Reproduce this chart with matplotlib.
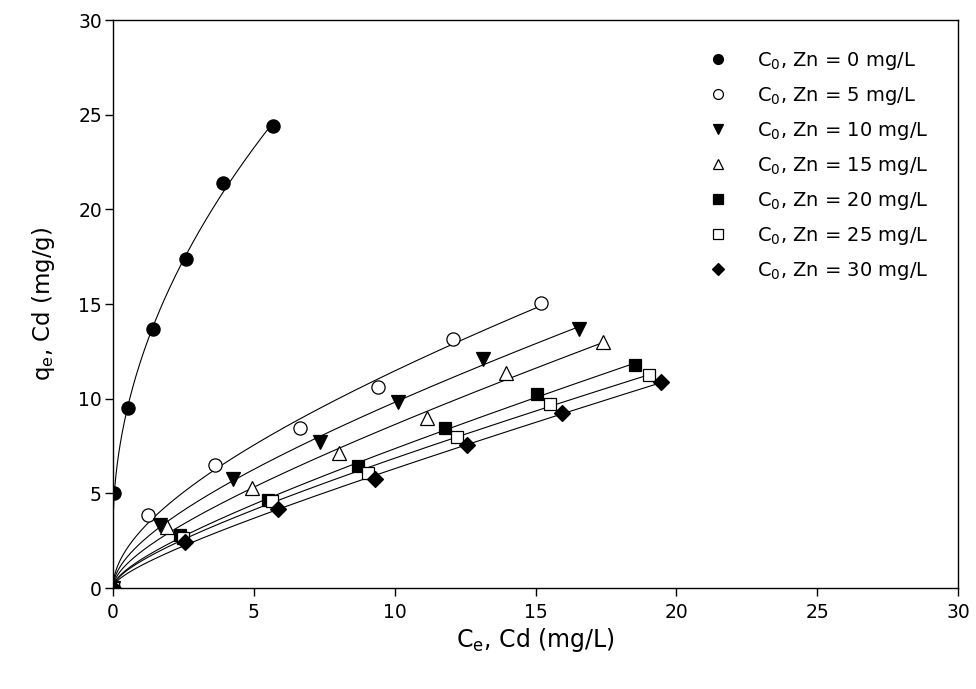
import numpy as np
import matplotlib.pyplot as plt

# Cd adsorption isotherms at different initial Zn concentrations
ce_0 = [0, 0.04, 0.54, 1.41, 2.59, 3.92, 5.67]
qe_0 = [0, 5.02, 9.49, 13.67, 17.38, 21.38, 24.41]
ce_5 = [0, 1.25, 3.62, 6.64, 9.42, 12.06, 15.21]
qe_5 = [0, 3.86, 6.50, 8.47, 10.63, 13.15, 15.07]
ce_10 = [0, 1.67, 4.26, 7.35, 10.12, 13.13, 16.54]
qe_10 = [0, 3.33, 5.76, 7.71, 9.83, 12.10, 13.68]
ce_15 = [0, 1.91, 4.92, 8.03, 11.14, 13.94, 17.41]
qe_15 = [0, 3.22, 5.27, 7.12, 8.96, 11.34, 13.01]
ce_20 = [0, 2.38, 5.51, 8.71, 11.79, 15.04, 18.53]
qe_20 = [0, 2.80, 4.65, 6.42, 8.44, 10.25, 11.78]
ce_25 = [0, 2.48, 5.63, 9.05, 12.20, 15.51, 19.04]
qe_25 = [0, 2.64, 4.61, 6.06, 7.99, 9.72, 11.25]
ce_30 = [0, 2.56, 5.87, 9.30, 12.56, 15.95, 19.44]
qe_30 = [0, 2.45, 4.16, 5.74, 7.55, 9.23, 10.90]

zn_levels = [0, 5, 10, 15, 20, 25, 30]
ticks = [0, 5, 10, 15, 20, 25, 30]

plt.rcParams['font.family'] = ['DejaVu Sans']
plt.rcParams['mathtext.default'] = 'regular'


def fit_curve(ce, qe, cn, steep=False):
    ''' least squares fit in s = sqrt(Ce), curve forced through the origin '''
    s = np.sqrt(np.asarray(ce, float))
    q = np.asarray(qe, float)
    sn = np.sqrt(cn)
    if not steep:
        X = np.column_stack([s, s**2])
        coef = np.linalg.lstsq(X, q, rcond=None)[0]
        return coef[0] * sn + coef[1] * sn**2
    # fast initial rise + linear part, pick the best rate k
    best = None
    for k in np.linspace(1, 40, 391):
        X = np.column_stack([s, 1 - np.exp(-k * s)])
        coef = np.linalg.lstsq(X, q, rcond=None)[0]
        err = np.sum((X @ coef - q)**2)
        if best is None or err < best[0]:
            best = (err, k, coef)
    _, k, coef = best
    return coef[0] * sn + coef[1] * (1 - np.exp(-k * sn))


series = [(ce_0, qe_0), (ce_5, qe_5), (ce_10, qe_10), (ce_15, qe_15),
          (ce_20, qe_20), (ce_25, qe_25), (ce_30, qe_30)]
styles = [('o', 'black', 9.5), ('o', 'white', 9.5), ('v', 'black', 9.5),
          ('^', 'white', 9.5), ('s', 'black', 9.0), ('s', 'white', 9.0),
          ('D', 'black', 8.0)]

fig = plt.figure(figsize=(9.76, 6.89), dpi=100)
ax = fig.add_axes([113 / 976, 1 - 588 / 689, 845 / 976, 568 / 689])

handles = []
for n, ((ce, qe), (mk, fc, ms), zn) in enumerate(zip(series, styles, zn_levels)):
    cn = np.linspace(0, ce[-1], 500)
    ax.plot(cn, fit_curve(ce, qe, cn, steep=(n == 0)), color='black', lw=0.8, zorder=2)
    h, = ax.plot(ce, qe, linestyle='none', marker=mk, markersize=ms,
                 markerfacecolor=fc, markeredgecolor='black',
                 markeredgewidth=0.9, zorder=3,
                 label=r'C$_0$, Zn = %d mg/L' % zn)
    handles.append(h)

ax.set_xlim(0, 30)
ax.set_ylim(0, 30)
ax.set_xticks(ticks)
ax.set_yticks(ticks)
ax.tick_params(direction='out', length=6, width=1, labelsize=13.5)
ax.tick_params(axis='x', pad=5)
ax.tick_params(axis='y', pad=2)
for sp in ax.spines.values():
    sp.set_linewidth(1)

ax.set_xlabel(r'C$_e$, Cd (mg/L)', fontsize=17, labelpad=3)
ax.set_ylabel(r'q$_e$, Cd (mg/g)', fontsize=16.5, labelpad=15)

ax.legend(handles=handles, loc='upper left', bbox_to_anchor=(706 / 976, 1 - 50 / 689),
          bbox_transform=fig.transFigure, frameon=False, borderaxespad=0,
          borderpad=0, handlelength=1.2, handletextpad=1.41, labelspacing=0.67,
          markerscale=0.75, fontsize=14, numpoints=1)

fig.savefig('out.png', dpi=100)
